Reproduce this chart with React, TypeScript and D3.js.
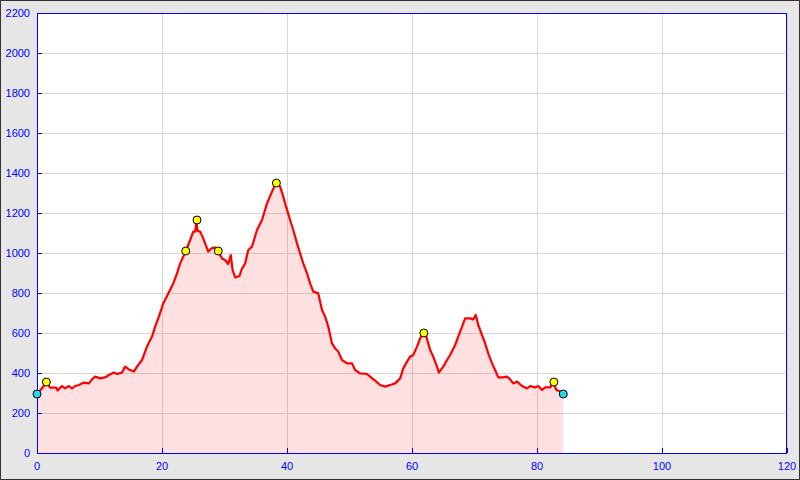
import React from "react";
import * as d3 from "d3";

const distanceKm = [0, 0.7, 1.5, 2.1, 3.1, 3.3, 4.0, 4.5, 5.1, 5.6, 6.1, 6.7, 7.5, 8.3, 8.8, 9.3, 10.1, 10.9, 11.5, 12.3, 12.8, 13.6, 14.1, 14.7, 15.5, 16.0, 16.8, 17.6, 18.4, 18.9, 19.5, 20.2, 21.0, 21.8, 22.4, 22.9, 23.4, 23.8, 24.5, 25.0, 25.3, 25.5, 25.7, 26.1, 26.6, 27.4, 27.9, 28.5, 29.0, 29.6, 30.1, 30.6, 31.0, 31.3, 31.7, 32.4, 32.7, 33.3, 33.8, 34.4, 35.2, 36.0, 36.8, 37.6, 38.1, 38.4, 38.9, 39.4, 39.7, 40.5, 41.0, 41.6, 42.1, 42.6, 43.2, 43.7, 44.2, 45.0, 45.6, 46.1, 46.6, 47.2, 47.7, 48.2, 48.8, 49.6, 50.4, 50.9, 51.7, 52.8, 53.3, 54.1, 54.9, 55.7, 56.5, 57.3, 58.1, 58.6, 59.2, 59.7, 60.2, 60.8, 61.3, 61.8, 62.3, 62.9, 63.4, 64.0, 64.3, 65.0, 65.6, 66.1, 66.9, 67.4, 67.9, 68.5, 69.3, 69.8, 70.2, 70.6, 71.1, 71.7, 72.2, 72.8, 73.3, 73.8, 74.6, 75.2, 75.7, 76.2, 76.8, 77.6, 78.4, 78.9, 79.7, 80.2, 80.8, 81.3, 82.1, 82.6, 83.1, 83.7, 84.2];
const elevationM = [295, 320, 353, 327, 327, 312, 335, 323, 335, 323, 335, 340, 352, 348, 368, 382, 373, 378, 390, 402, 395, 402, 432, 418, 407, 432, 465, 532, 582, 632, 682, 748, 798, 848, 898, 948, 982, 1010, 1065, 1107, 1107, 1155, 1110, 1107, 1073, 1007, 1023, 1028, 1010, 973, 965, 945, 990, 915, 878, 885, 915, 948, 1015, 1032, 1115, 1165, 1248, 1307, 1340, 1348, 1332, 1282, 1248, 1165, 1115, 1048, 998, 948, 898, 848, 807, 798, 715, 682, 632, 548, 523, 507, 465, 448, 448, 415, 398, 395, 382, 362, 340, 332, 340, 348, 373, 423, 457, 482, 490, 532, 573, 598, 582, 515, 482, 432, 402, 432, 465, 490, 540, 582, 623, 673, 673, 668, 690, 640, 598, 548, 498, 448, 415, 378, 378, 382, 368, 348, 357, 335, 323, 335, 328, 335, 315, 328, 328, 352, 315, 307, 293];

const markerKm = [0, 1.5, 23.8, 25.6, 29.0, 38.3, 61.9, 82.7, 84.2];
const markerElev = [295, 355, 1010, 1165, 1010, 1350, 600, 355, 295];
const markerKind = ["end", "way", "way", "way", "way", "way", "way", "way", "end"];

const xTicks = [0, 20, 40, 60, 80, 100, 120];
const yTicks = [0, 200, 400, 600, 800, 1000, 1200, 1400, 1600, 1800, 2000, 2200];

export default function App() {
  const W = 800, H = 480;
  const left = 37, right = 787, top = 13, bottom = 453;
  const x = d3.scaleLinear().domain([0, 120]).range([left, right]);
  const y = d3.scaleLinear().domain([0, 2200]).range([bottom, top]);
  const pts = distanceKm.map((d, i) => [d, elevationM[i]] as [number, number]);
  const area = d3.area<[number, number]>().x(d => x(d[0])).y0(y(0)).y1(d => y(d[1]))(pts) || "";
  const line = d3.line<[number, number]>().x(d => x(d[0])).y(d => y(d[1]))(pts) || "";
  const font = "'Liberation Sans', Arial, sans-serif";
  return (
    <svg width={W} height={H} style={{ position: "fixed", left: 0, top: 0 }}>
      <rect x={0.5} y={0.5} width={W - 1} height={H - 1} fill="#e6e6e6" stroke="#333" />
      <rect x={left} y={top} width={right - left} height={bottom - top} fill="#fff" />
      {yTicks.map(t => (
        <line key={"gy" + t} x1={left} x2={right} y1={Math.round(y(t)) + 0.5} y2={Math.round(y(t)) + 0.5} stroke="#d8d8d8" />
      ))}
      {xTicks.map(t => (
        <line key={"gx" + t} x1={Math.round(x(t)) + 0.5} x2={Math.round(x(t)) + 0.5} y1={top} y2={bottom} stroke="#d8d8d8" />
      ))}
      <path d={area} fill="rgba(255,0,0,0.12)" />
      <path d={line} fill="none" stroke="#ff0000" strokeWidth={2.2} strokeLinejoin="round" />
      <rect x={left + 0.5} y={top + 0.5} width={right - left - 1} height={bottom - top} fill="none" stroke="#0000ff" />
      {yTicks.map(t => (
        <line key={"ty" + t} x1={left} x2={left + 5} y1={Math.round(y(t)) + 0.5} y2={Math.round(y(t)) + 0.5} stroke="#0000ff" />
      ))}
      {xTicks.map(t => (
        <line key={"tx" + t} x1={Math.round(x(t)) + 0.5} x2={Math.round(x(t)) + 0.5} y1={bottom} y2={bottom - 5} stroke="#0000ff" />
      ))}
      {yTicks.map(t => (
        <text key={"ly" + t} x={30} y={y(t)} dy="0.35em" textAnchor="end" fontFamily={font} fontSize={11} fill="#0000ff">{t}</text>
      ))}
      {xTicks.map(t => (
        <text key={"lx" + t} x={x(t)} y={466} dy="0.35em" textAnchor="middle" fontFamily={font} fontSize={11} fill="#0000ff">{t}</text>
      ))}
      {markerKm.map((k, i) => (
        <circle key={"m" + i} cx={x(k)} cy={y(markerElev[i])} r={4} fill={markerKind[i] === "end" ? "#22d8ea" : "#ffff00"} stroke="#000" strokeWidth={1} />
      ))}
    </svg>
  );
}
